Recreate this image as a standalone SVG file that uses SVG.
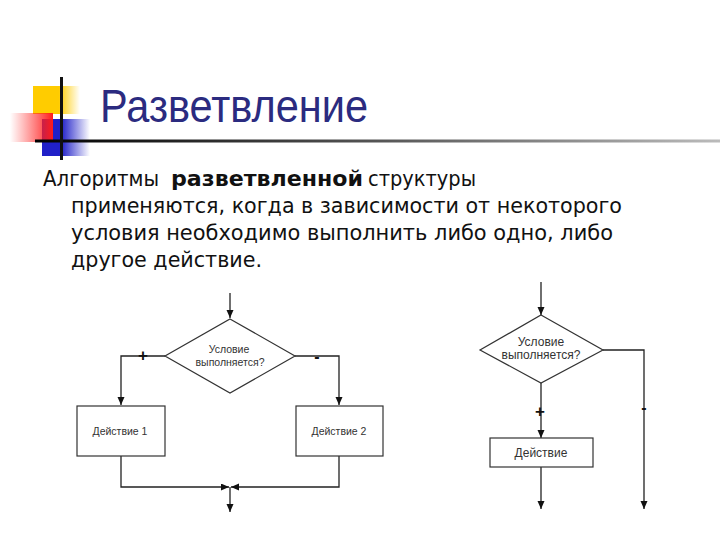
<svg xmlns="http://www.w3.org/2000/svg" width="720" height="540" viewBox="0 0 720 540">
<style>
.title{font-family:"Liberation Sans",Arial,sans-serif;font-size:46px;fill:#2b2b80}
.body{font-family:"DejaVu Sans Condensed","DejaVu Sans",sans-serif;font-size:21px;fill:#111}
.bold{font-weight:bold}
.shape{fill:#fff;stroke:#333;stroke-width:1.2}
.lbl{font-family:"Liberation Sans",Arial,sans-serif;fill:#333;text-anchor:middle}
.s1{font-size:10.5px}
.s2{font-size:12px}
.sign{font-family:"Liberation Sans",Arial,sans-serif;fill:#111;text-anchor:middle;font-weight:bold}
.conn path{fill:none;stroke:#222;stroke-width:1.3}
</style>
<defs>
<marker id="arr" markerUnits="userSpaceOnUse" markerWidth="9" markerHeight="8" refX="8" refY="3.5" orient="auto">
<path d="M0,0 L8,3.5 L0,7 z" fill="#111"/>
</marker>
<linearGradient id="gy" x1="0" x2="1" y1="0" y2="0">
<stop offset="0" stop-color="#ffcc00"/>
<stop offset="0.55" stop-color="#ffcc00"/>
<stop offset="1" stop-color="#ffcc00" stop-opacity="0"/>
</linearGradient>
<linearGradient id="gr" x1="0" x2="1" y1="0" y2="0">
<stop offset="0" stop-color="#ff3030" stop-opacity="0"/>
<stop offset="1" stop-color="#ff1a1a"/>
</linearGradient>
<linearGradient id="gb" x1="0" x2="1" y1="0" y2="0">
<stop offset="0" stop-color="#2020c8"/>
<stop offset="0.4" stop-color="#2020c8"/>
<stop offset="1" stop-color="#2020c8" stop-opacity="0"/>
</linearGradient>
<linearGradient id="gl" x1="0" x2="1" y1="0" y2="0">
<stop offset="0" stop-color="#000"/>
<stop offset="0.5" stop-color="#555"/>
<stop offset="1" stop-color="#bbb"/>
</linearGradient>
</defs>
<rect width="720" height="540" fill="#fff"/>
<g id="decor">
<rect x="33" y="86" width="47" height="28" fill="url(#gy)"/>
<rect x="42" y="119" width="48" height="37" fill="url(#gb)"/>
<rect x="10" y="113" width="43" height="29" fill="url(#gr)"/>
<rect x="35" y="139.5" width="685" height="3" fill="url(#gl)"/>
<rect x="60" y="77" width="3" height="83" fill="#111"/>
</g>
<text class="title" x="100" y="122" textLength="268" lengthAdjust="spacingAndGlyphs">Разветвление</text>
<g id="body">
<text class="body" x="43" y="186" textLength="116" lengthAdjust="spacingAndGlyphs">Алгоритмы</text>
<text class="body bold" x="171" y="186" textLength="192" lengthAdjust="spacingAndGlyphs">разветвленной</text>
<text class="body" x="368" y="186" textLength="108" lengthAdjust="spacingAndGlyphs">структуры</text>
<text class="body" x="71" y="213" textLength="551" lengthAdjust="spacingAndGlyphs">применяются, когда в зависимости от некоторого</text>
<text class="body" x="71" y="240" textLength="542" lengthAdjust="spacingAndGlyphs">условия необходимо выполнить либо одно, либо</text>
<text class="body" x="71" y="267" textLength="191" lengthAdjust="spacingAndGlyphs">другое действие.</text>
</g>
<g id="connectors" class="conn">
<path d="M230,293 V318" marker-end="url(#arr)"/>
<path d="M165,356 H121 V405" marker-end="url(#arr)"/>
<path d="M295,356 H339 V405" marker-end="url(#arr)"/>
<path d="M121,456 V487 H229" marker-end="url(#arr)"/>
<path d="M339,456 V487 H231" marker-end="url(#arr)"/>
<path d="M230,487 V512" marker-end="url(#arr)"/>
<path d="M541,282 V315" marker-end="url(#arr)"/>
<path d="M541,383 V438" marker-end="url(#arr)"/>
<path d="M541,467 V509" marker-end="url(#arr)"/>
<path d="M603,350 H644 V509" marker-end="url(#arr)"/>
</g>
<g id="cond1">
<polygon class="shape" points="230,319 295,356 230,393 165,356"/>
<text class="lbl s1" x="229" y="353">Условие</text>
<text class="lbl s1" x="230" y="366">выполняется?</text>
</g>
<g id="act1">
<rect class="shape" x="77" y="406" width="88" height="50"/>
<text class="lbl s1" x="120" y="435">Действие 1</text>
</g>
<g id="act2">
<rect class="shape" x="296" y="406" width="87" height="50"/>
<text class="lbl s1" x="339" y="435">Действие 2</text>
</g>
<g id="cond2">
<polygon class="shape" points="541,315 603,350 541,383 480,350"/>
<text class="lbl s2" x="541" y="346">Условие</text>
<text class="lbl s2" x="541" y="359">выполняется?</text>
</g>
<g id="act3">
<rect class="shape" x="490" y="438" width="103" height="29"/>
<text class="lbl s2" x="541" y="457">Действие</text>
</g>
<g id="signs">
<text class="sign" x="143" y="361" font-size="17">+</text>
<text class="sign" x="317" y="362" font-size="16">-</text>
<text class="sign" x="540" y="417" font-size="17">+</text>
<text class="sign" x="644" y="413" font-size="16">-</text>
</g>
</svg>
